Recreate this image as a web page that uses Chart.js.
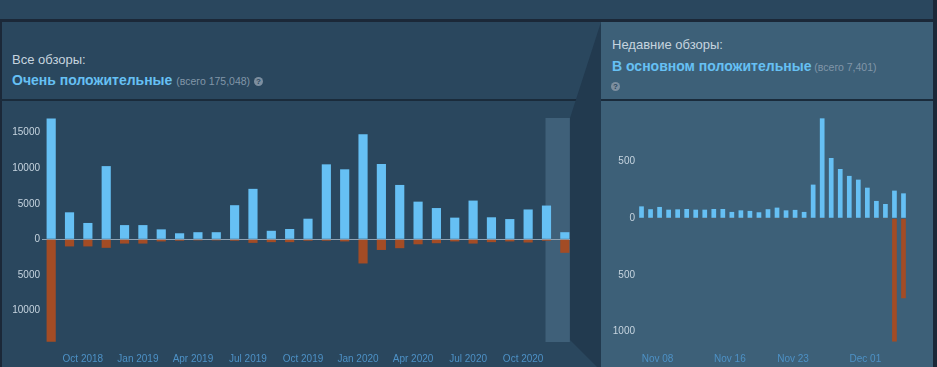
<!DOCTYPE html>
<html>
<head>
<meta charset="utf-8">
<script src="https://cdn.jsdelivr.net/npm/chart.js@4.4.0/dist/chart.umd.min.js"></script>
<style>
  html, body { margin: 0; padding: 0; }
  body { width: 937px; height: 367px; background: #1b2838; position: relative; overflow: hidden; font-family: Arial, "Liberation Sans", sans-serif; }
  .abs { position: absolute; }
  #topStrip { left: 0; top: 0; width: 933px; height: 19px; background: #2a475e; }
  #leftPanel { left: 2px; top: 22px; width: 600px; height: 345px; background: #2a475e; }
  #rightPanel { left: 601px; top: 22px; width: 332px; height: 345px; background: #3d6078; }
  .sep { height: 2px; background: #1a2b3b; }
  .label { color: #c6d4df; font-size: 13px; }
  .summary { color: #66c0f4; font-weight: bold; font-size: 14px; }
  .count { color: #8196a8; font-size: 10.5px; font-weight: normal; }
  .help { display: inline-block; width: 9px; height: 9px; border-radius: 50%; background: #7d8fa0; color: #2a475e; font-size: 8px; line-height: 9px; text-align: center; font-weight: bold; vertical-align: 1px; }
  canvas { position: absolute; }
</style>
</head>
<body>
<div id="topStrip" class="abs"></div>
<div id="leftPanel" class="abs"></div>
<div id="rightPanel" class="abs"></div>
<div class="abs sep" style="left:0; top:99px; width:600px;"></div>
<div class="abs sep" style="left:601px; top:99px; width:332px;"></div>

<div class="abs label" style="left:12px; top:52px;">Все обзоры:</div>
<div class="abs summary" style="left:12px; top:72px;">Очень положительные <span class="count">(всего 175,048)</span> <span class="help">?</span></div>

<div class="abs label" style="left:612px; top:37px;">Недавние обзоры:</div>
<div class="abs summary" style="left:612px; top:58px;">В основном положительные<span class="count"> (всего 7,401)</span></div>
<div class="abs" style="left:611px; top:76px;"><span class="help">?</span></div>

<canvas id="allChart" width="575" height="265" style="left:0; top:102px;"></canvas>
<canvas id="recentChart" width="332" height="265" style="left:601px; top:102px;"></canvas>

<svg class="abs" style="left:0; top:0;" width="937" height="367">
  <polygon points="601,22 570,118 570,340 597,367 601,367" fill="#223a4f"></polygon>
</svg>

<script>
// Все обзоры - по месяцам
const allMonths = ['Aug 2018', 'Sep 2018', 'Oct 2018', 'Nov 2018', 'Dec 2018', 'Jan 2019', 'Feb 2019', 'Mar 2019',
  'Apr 2019', 'May 2019', 'Jun 2019', 'Jul 2019', 'Aug 2019', 'Sep 2019', 'Oct 2019', 'Nov 2019', 'Dec 2019',
  'Jan 2020', 'Feb 2020', 'Mar 2020', 'Apr 2020', 'May 2020', 'Jun 2020', 'Jul 2020', 'Aug 2020', 'Sep 2020',
  'Oct 2020', 'Nov 2020', 'Dec 2020'];
const allPositive = [17000, 3800, 2300, 10300, 2000, 2000, 1400, 850, 1000, 1000, 4800, 7100, 1200, 1450, 2900,
  10550, 9850, 14800, 10600, 7650, 5300, 4400, 3050, 5450, 3100, 2850, 4200, 4750, 1000];
const allNegative = [-14400, -1000, -1000, -1200, -600, -600, -300, -200, -150, -150, -200, -500, -400, -400, -200,
  -200, -300, -3400, -1500, -1250, -700, -550, -300, -600, -400, -300, -450, -200, -1900];
const allTickLabels = ['Oct 2018', 'Jan 2019', 'Apr 2019', 'Jul 2019', 'Oct 2019', 'Jan 2020', 'Apr 2020', 'Jul 2020', 'Oct 2020'];
const allYTicks = [15000, 10000, 5000, 0, -5000, -10000];

// Недавние обзоры - по дням
const recentDays = ['Nov 06', 'Nov 07', 'Nov 08', 'Nov 09', 'Nov 10', 'Nov 11', 'Nov 12', 'Nov 13', 'Nov 14', 'Nov 15',
  'Nov 16', 'Nov 17', 'Nov 18', 'Nov 19', 'Nov 20', 'Nov 21', 'Nov 22', 'Nov 23', 'Nov 24', 'Nov 25',
  'Nov 26', 'Nov 27', 'Nov 28', 'Nov 29', 'Nov 30', 'Dec 01', 'Dec 02', 'Dec 03', 'Dec 04', 'Dec 05'];
const recentPositive = [105, 80, 100, 76, 79, 82, 76, 76, 82, 82, 56, 70, 65, 53, 80, 94, 70, 74, 56, 297,
  882, 532, 435, 374, 341, 270, 153, 126, 244, 220];
const recentNegative = [-4, -3, -3, -3, -3, -3, -3, -3, -3, -3, -3, -3, -3, -3, -3, -3, -3, -3, -3, -4,
  -6, -5, -5, -4, -4, -4, -3, -3, -1088, -706];
const recentTickLabels = ['Nov 08', 'Nov 16', 'Nov 23', 'Dec 01'];
const recentYTicks = [500, 0, -500, -1000];

const posColor = '#66c0f4';
const negColor = '#a34c25';
const fontFamily = 'Arial, "Liberation Sans", sans-serif';

// подсветка последних 30 дней на общем графике
const recentHighlight = {
  id: 'recentHighlight',
  beforeDraw(chart) {
    const x = chart.scales.x;
    const area = chart.chartArea;
    const x1 = x.getPixelForValue(allMonths.length - 2) - 1;
    const x2 = x.getPixelForValue(allMonths.length - 1) + 5;
    chart.ctx.save();
    chart.ctx.fillStyle = '#3f6079';
    chart.ctx.fillRect(x1, area.top, x2 - x1, area.bottom - area.top);
    chart.ctx.restore();
  }
};

function makeChart(id, labels, pos, neg, tickLabels, yTicks, opts) {
  return new Chart(document.getElementById(id), {
    type: 'bar',
    data: {
      labels: labels,
      datasets: [
        { data: pos, backgroundColor: posColor, barPercentage: opts.barPct, categoryPercentage: 1 },
        { data: neg, backgroundColor: negColor, barPercentage: opts.barPct, categoryPercentage: 1 }
      ]
    },
    options: {
      responsive: false,
      animation: false,
      layout: { padding: { top: 16, right: opts.padRight, left: 0, bottom: 0 } },
      plugins: { legend: { display: false }, tooltip: { enabled: false } },
      scales: {
        x: {
          stacked: true,
          grid: { display: false },
          border: { display: false },
          afterFit: s => { s.height = 25; },
          ticks: {
            autoSkip: false,
            maxRotation: 0,
            padding: 3,
            labelOffset: opts.labelOffset,
            color: '#4d91c6',
            font: { family: fontFamily, size: 10 },
            callback: function (val) {
              const l = this.getLabelForValue(val);
              return tickLabels.includes(l) ? l : '';
            }
          }
        },
        y: {
          stacked: true,
          min: opts.min,
          max: opts.max,
          afterFit: s => { s.width = opts.axisWidth; },
          afterBuildTicks: s => { s.ticks = yTicks.map(v => ({ value: v })); },
          border: { display: false },
          grid: {
            drawTicks: false,
            color: c => (opts.zeroLine && c.tick && c.tick.value === 0) ? '#8ea2b3' : 'transparent'
          },
          ticks: {
            padding: 2,
            color: '#c6d4df',
            font: { family: fontFamily, size: 10 },
            callback: v => Math.abs(v)
          }
        }
      }
    },
    plugins: opts.plugins
  });
}

makeChart('allChart', allMonths, allPositive, allNegative, allTickLabels, allYTicks, {
  barPct: 0.5, padRight: 1, labelOffset: -5, min: -14450, max: 17070,
  axisWidth: 42, zeroLine: true, plugins: [recentHighlight]
});

makeChart('recentChart', recentDays, recentPositive, recentNegative, recentTickLabels, recentYTicks, {
  barPct: 0.52, padRight: 25, labelOffset: -2, min: -1092, max: 885,
  axisWidth: 36, zeroLine: false, plugins: []
});
</script>
</body>
</html>
